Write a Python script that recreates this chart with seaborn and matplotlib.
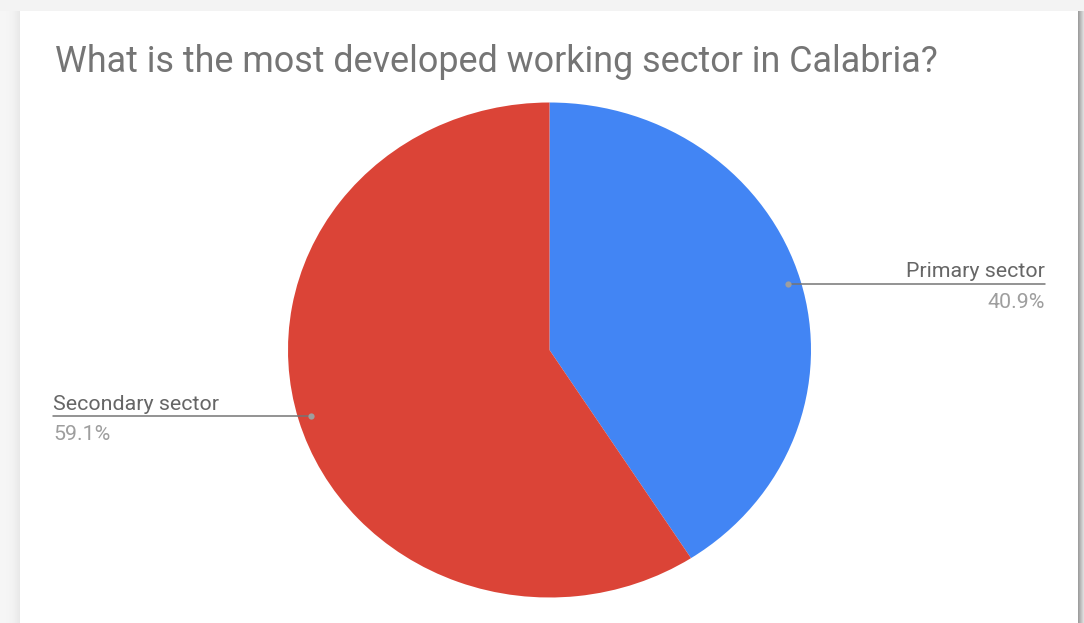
import numpy as np
import matplotlib
matplotlib.use("Agg")
import matplotlib.pyplot as plt
import seaborn as sns

# Survey answers
sectors = ["Primary sector", "Secondary sector"]
shares = [40.9, 59.1]
slice_colors = ["#4285F4", "#DB4437"]
title_text = "What is the most developed working sector in Calabria?"

sns.set_theme(style="white")
plt.rcParams["font.family"] = ["Roboto", "DejaVu Sans"]

W, H, DPI = 1084, 623, 100
fig = plt.figure(figsize=(W / DPI, H / DPI), dpi=DPI)

# Card background with soft edge shading
bg = fig.add_axes([0, 0, 1, 1])
bg.set_axis_off()
img = np.ones((H, W, 3))
img[:, :, :] = 0.965
xs = np.arange(W)
left = np.clip((xs - 4) / 16.0, 0, 1)
shade = 0.965 - 0.06 * left ** 2
for x in range(0, 20):
    img[:, x, :] = shade[x]
img[0:11, :, :] = 0.955
img[11:, 20:1078, :] = 1.0
for i, x in enumerate(range(1078, W)):
    img[11:, x, :] = 0.62 + 0.05 * i
bg.imshow(img, extent=(0, W, H, 0), aspect="auto", interpolation="bilinear")
bg.set_xlim(0, W)
bg.set_ylim(H, 0)

fig.text(55 / W, 1 - 62 / H, title_text, fontsize=25.8, color="#757575",
         ha="left", va="center")

# Pie
cx, cy, rx, ry = 549.5, 350, 261.5, 247.5
ax = fig.add_axes([(cx - rx) / W, (H - cy - ry) / H, 2 * rx / W, 2 * ry / H])
wedges, _ = ax.pie(shares, colors=slice_colors, startangle=90, counterclock=False,
                   radius=1, wedgeprops=dict(linewidth=0))
ax.set_aspect("auto")
ax.set_xlim(-1, 1)
ax.set_ylim(-1, 1)
ax.set_axis_off()

label_color = "#666666"
pct_color = "#9E9E9E"
line_color = "#757575"
label_x = {0: (1045 - cx) / rx, 1: (53 - cx) / rx}
for i, w in enumerate(wedges):
    mid = np.deg2rad((w.theta1 + w.theta2) / 2)
    px, py = 0.952 * np.cos(mid), 0.952 * np.sin(mid)
    ex = label_x[i]
    ax.plot([px, ex], [py, py], color=line_color, lw=1.1, clip_on=False, zorder=3)
    ax.plot([px], [py], marker="o", ms=4.5, color="#9E9E9E", mec="none",
            clip_on=False, zorder=4)
    ha = "right" if ex > 0 else "left"
    ax.text(ex, py + 6.5 / ry, sectors[i], ha=ha, va="baseline", fontsize=15.4,
            color=label_color, clip_on=False)
    ax.text(ex, py - 9 / ry, f"{shares[i]}%", ha=ha, va="top", fontsize=15.4,
            color=pct_color, clip_on=False)

fig.savefig("out.png", dpi=DPI)
